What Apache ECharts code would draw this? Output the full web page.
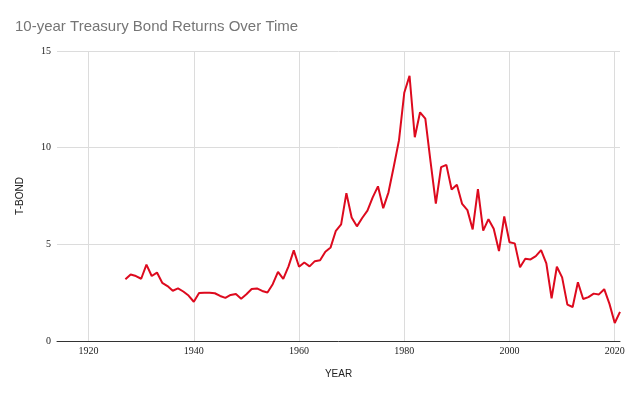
<!DOCTYPE html>
<html>
<head>
<meta charset="utf-8">
<script src="https://cdn.jsdelivr.net/npm/echarts@6/dist/echarts.min.js"></script>
<style>html,body{margin:0;padding:0;background:#fff}#c{width:636px;height:393px}</style>
</head>
<body>
<div id="c"></div>
<script>
const years = [1927,1928,1929,1930,1931,1932,1933,1934,1935,1936,1937,1938,1939,1940,
1941,1942,1943,1944,1945,1946,1947,1948,1949,1950,1951,1952,1953,1954,1955,1956,1957,1958,1959,1960,
1961,1962,1963,1964,1965,1966,1967,1968,1969,1970,1971,1972,1973,1974,1975,1976,1977,1978,1979,1980,
1981,1982,1983,1984,1985,1986,1987,1988,1989,1990,1991,1992,1993,1994,1995,1996,1997,1998,1999,2000,
2001,2002,2003,2004,2005,2006,2007,2008,2009,2010,2011,2012,2013,2014,2015,2016,2017,2018,2019,2020,2021];
const tbond = [3.19,3.44,3.36,3.22,3.95,3.36,3.54,3.01,2.84,2.60,2.72,2.56,2.35,2.03,
2.48,2.50,2.50,2.47,2.33,2.23,2.38,2.43,2.19,2.42,2.69,2.72,2.59,2.51,2.94,3.58,3.21,3.86,4.69,3.84,
4.06,3.86,4.13,4.18,4.62,4.84,5.70,6.03,7.65,6.39,5.93,6.36,6.74,7.43,8.00,6.87,7.69,9.01,10.39,12.84,
13.72,10.54,11.83,11.50,9.26,7.11,8.99,9.11,7.84,8.08,7.09,6.77,5.77,7.85,5.71,6.30,5.81,4.65,6.44,5.11,
5.05,3.81,4.25,4.22,4.39,4.70,4.02,2.21,3.84,3.29,1.88,1.76,3.04,2.17,2.27,2.45,2.41,2.68,1.92,0.93,1.51];
const xTicks = [1920,1940,1960,1980,2000,2020];
const yTicks = [0,5,10,15];

const chart = echarts.init(document.getElementById('c'));
chart.setOption({
  animation: false,
  title: {
    text: '10-year Treasury Bond Returns Over Time',
    left: 10, top: 14,
    textStyle: {fontFamily: 'Liberation Sans', fontSize: 15, fontWeight: 'normal', color: '#757575'}
  },
  grid: {left: 57, right: 16, top: 51, bottom: 52},
  xAxis: {
    type: 'value', min: 1914, max: 2021,
    name: 'YEAR', nameLocation: 'middle', nameGap: 28,
    nameTextStyle: {fontFamily: 'Liberation Sans', fontSize: 10, color: '#222'},
    axisLine: {show: true, onZero: false, lineStyle: {color: '#333', width: 1}},
    axisTick: {show: false, customValues: xTicks},
    axisLabel: {customValues: xTicks, formatter: v => String(v), fontFamily: 'Liberation Serif', fontSize: 10, color: '#222', margin: 5},
    splitLine: {show: true, lineStyle: {color: '#dcdcdc', width: 1}}
  },
  yAxis: {
    type: 'value', min: 0, max: 15, interval: 5,
    name: 'T-BOND', nameLocation: 'middle', nameGap: 32,
    nameTextStyle: {fontFamily: 'Liberation Sans', fontSize: 10, color: '#222'},
    axisLine: {show: false},
    axisTick: {show: false},
    axisLabel: {fontFamily: 'Liberation Serif', fontSize: 10, color: '#222', margin: 6},
    splitLine: {show: true, lineStyle: {color: '#dcdcdc', width: 1}}
  },
  series: [{
    type: 'line',
    data: years.map((y, i) => [y, tbond[i]]),
    showSymbol: false,
    lineStyle: {color: '#dd0a1e', width: 2},
    itemStyle: {color: '#dd0a1e'}
  }]
});
</script>
</body>
</html>
